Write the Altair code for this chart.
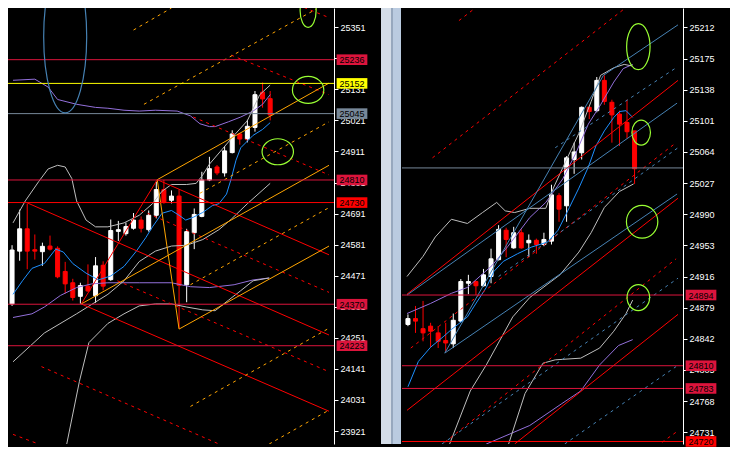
import altair as alt
import pandas as pd

W_LEFT, W_RIGHT, H, GAP = 326, 281, 436, 68
FONT = "Liberation Sans"
GREEN = "#99FF33"
BOX = "M-1.45,-0.5H1.45V0.5H-1.45Z"

# ── left chart: candles (index 0..34) ───────────────────────────────────────
L_OPEN = [24371, 24558, 24637, 24563, 24556, 24576, 24568, 24486, 24446, 24398,
          24434, 24400, 24508, 24457, 24628, 24620, 24639, 24668, 24634, 24685,
          24776, 24738, 24753, 24439, 24623, 24681, 24810, 24856, 24835, 24907,
          24973, 24955, 24996, 25121, 25098]
L_HIGH = [24579, 24705, 24726, 24617, 24588, 24613, 24575, 24520, 24460, 24446,
          24511, 24537, 24522, 24670, 24665, 24659, 24693, 24681, 24702, 24804,
          24810, 24773, 24776, 24637, 24709, 24839, 24892, 24863, 24930, 24986,
          24977, 25023, 25125, 25155, 25125]
L_LOW = [24364, 24524, 24494, 24528, 24506, 24560, 24462, 24408, 24383, 24372,
         24414, 24375, 24419, 24453, 24594, 24613, 24634, 24624, 24627, 24674,
         24726, 24727, 24285, 24377, 24565, 24678, 24806, 24827, 24822, 24904,
         24935, 24943, 24981, 25066, 25021]
L_CLOSE = [24562, 24637, 24558, 24558, 24575, 24565, 24467, 24442, 24394, 24436,
           24417, 24506, 24434, 24631, 24634, 24645, 24668, 24639, 24685, 24776,
           24730, 24753, 24437, 24627, 24688, 24810, 24850, 24835, 24913, 24973,
           24955, 25000, 25112, 25097, 25040]

L_TICKS = [23921, 24031, 24141, 24251, 24361, 24471, 24581, 24691, 24801,
           24911, 25021, 25131, 25241, 25351]

# indicator lines (index, price)
L_MA = [(0.125, 24405), (1.375, 24453), (2.625, 24497), (4.25, 24514), (5.75, 24565),
        (6.75, 24555), (8.0, 24514), (9.75, 24480), (11.375, 24456), (13.0, 24470),
        (14.75, 24504), (16.375, 24558), (17.625, 24606), (18.5, 24644), (19.75, 24692),
        (21.0, 24702), (22.0, 24685), (22.875, 24668), (23.875, 24678), (25.125, 24695),
        (26.375, 24719), (27.25, 24726), (28.25, 24760), (28.875, 24815), (29.5, 24880),
        (30.125, 24924), (31.75, 24968), (33.0, 24989), (34.0, 25013)]
L_ENV_UP = [(0.125, 25163), (3.0, 25167), (4.75, 25139), (6.0, 25095), (8.5, 25078),
            (11.0, 25067), (12.625, 25064), (14.75, 25057), (16.75, 25054), (18.875, 25057),
            (21.75, 25054), (23.5, 25037), (24.75, 25009), (26.0, 24999), (26.75, 24999),
            (28.5, 25016), (30.125, 25033), (31.75, 25054), (33.0, 25078), (34.0, 25112)]
L_ENV_DN = [(0.125, 24323), (2.625, 24336), (4.25, 24360), (6.375, 24401), (8.5, 24429),
            (10.5, 24442), (12.625, 24446), (16.75, 24446), (21.0, 24446), (23.5, 24432),
            (26.0, 24429), (29.25, 24439), (31.75, 24456), (33.875, 24463)]
L_BB_UP = [(0.125, 24658), (1.75, 24736), (3.5, 24804), (4.75, 24849), (6.0, 24862),
           (7.0, 24856), (7.875, 24815), (8.5, 24736), (9.75, 24668), (11.0, 24644),
           (12.625, 24644), (14.75, 24658), (16.75, 24685), (18.5, 24726), (19.75, 24770),
           (21.0, 24794), (23.0, 24794), (24.25, 24798), (25.125, 24828), (26.0, 24866),
           (27.625, 24917), (29.25, 24968), (31.0, 25020), (32.625, 25112), (34.0, 25146)]
L_BB_MID = [(0.125, 24166), (4.25, 24268), (8.5, 24336), (12.625, 24405), (14.75, 24453),
            (16.75, 24521), (18.875, 24558), (21.0, 24576), (23.0, 24579), (25.125, 24599),
            (27.25, 24634), (28.875, 24671), (31.0, 24726), (34.0, 24798)]
L_BB_DN = [(7.0, 23848), (8.875, 24097), (10.125, 24234), (12.625, 24302), (14.75, 24336),
           (16.75, 24364), (18.875, 24371), (21.0, 24371), (23.0, 24360), (25.125, 24350),
           (26.75, 24347), (28.5, 24384), (30.125, 24418), (31.75, 24453), (33.875, 24463)]

# trend lines (index1, price1, index2, price2)
L_RED_SOLID = [(2.0, 24729, 41.75, 24261), (19.125, 24811, 41.75, 24545),
               (9.125, 24371, 41.75, 23991), (9.125, 24371, 19.125, 24811)]
L_RED_DASH = [(23.875, 25033, 41.75, 24828), (28.875, 25252, 41.75, 25112),
              (37.625, 25430, 41.75, 25385), (13.875, 24453, 41.75, 24131),
              (17.0, 24702, 41.75, 24412), (3.875, 24149, 41.75, 23705),
              (0.125, 23909, 3.5, 23875)]
L_ORANGE_SOLID = [(19.125, 24811, 41.75, 25153), (9.125, 24371, 41.75, 24862),
                  (22.0, 24282, 41.75, 24576), (19.125, 24811, 22.0, 24282)]
L_ORANGE_DASH = [(16.0, 25341, 21.0, 25419), (17.375, 25078, 40.125, 25416),
                 (24.75, 24763, 41.75, 25016), (23.5, 24439, 41.75, 24712),
                 (23.5, 24008, 41.75, 24285), (33.875, 23875, 41.75, 23995)]

L_LEVELS = [25236, 25152, 25045, 24810, 24730, 24370, 24223]
L_LEVEL_COLORS = ["#DC143C", "#FFFF00", "#778899", "#DC143C", "#FF0000", "#DC143C", "#DC143C"]
L_LEVEL_TAGGED = [True, True, True, True, True, True, True]

L_RINGS = [(7.0, 25317), (39.0, 25409), (39.0, 25129), (35.0, 24910)]
L_RING_SIZE = [(21.5, 76), (8, 16.5), (15.7, 13.5), (15.7, 13)]
L_RING_COLORS = ["#4682B4", GREEN, GREEN, GREEN]

# ── right chart: candles (index 0..30) ──────────────────────────────────────
R_OPEN = [24859, 24866, 24854, 24857, 24849, 24840, 24836, 24863, 24908, 24910,
          24905, 24916, 24936, 24971, 24950, 24968, 24956, 24959, 24954, 24958,
          25012, 25000, 25055, 25063, 25117, 25113, 25149, 25123, 25109, 25099, 25089]
R_HIGH = [24871, 24881, 24887, 24861, 24857, 24861, 24872, 24913, 24918, 24911,
          24925, 24949, 24977, 24974, 24975, 24972, 24966, 24961, 24968, 25025,
          25015, 25059, 25075, 25118, 25118, 25153, 25155, 25126, 25113, 25126, 25089]
R_LOW = [24857, 24849, 24839, 24832, 24831, 24826, 24831, 24862, 24895, 24894,
         24904, 24908, 24935, 24939, 24949, 24949, 24939, 24943, 24952, 24954,
         24981, 24981, 25038, 25055, 25103, 25111, 25120, 25075, 25071, 25080, 25026]
R_CLOSE = [24866, 24863, 24849, 24851, 24839, 24837, 24864, 24910, 24910, 24905,
           24918, 24937, 24972, 24960, 24968, 24950, 24959, 24954, 24960, 25013,
           24996, 25057, 25064, 25117, 25112, 25149, 25124, 25108, 25097, 25088, 25044]

R_TICKS = [24731, 24768, 24805, 24842, 24879, 24916, 24953, 24990, 25027,
           25064, 25101, 25138, 25175, 25212]

R_MA = [(0.0, 24785), (1.375, 24815), (3.0, 24832), (4.75, 24845), (5.75, 24853),
        (6.75, 24860), (7.875, 24868), (8.5, 24877), (10.375, 24903), (11.375, 24922),
        (12.625, 24934), (14.5, 24943), (16.375, 24951), (18.5, 24957), (19.875, 24971),
        (21.375, 24998), (22.625, 25021), (23.875, 25046), (24.875, 25071), (26.0, 25089),
        (27.25, 25105), (28.0, 25112), (28.875, 25113), (29.75, 25105)]
R_ENV_UP = [(-0.125, 24872), (3.0, 24884), (5.75, 24896), (7.875, 24903), (11.125, 24929),
            (13.25, 24952), (16.125, 24986), (18.25, 25004), (20.5, 25032), (22.25, 25063),
            (23.875, 25097), (25.5, 25120), (27.25, 25147), (28.5, 25163), (29.75, 25168)]
R_ENV_DN = [(8.25, 24702), (10.375, 24717), (16.125, 24739), (20.375, 24765),
            (22.875, 24780), (25.375, 24811), (27.875, 24834), (29.75, 24841)]
R_BB_UP = [(-0.125, 24916), (2.0, 24940), (3.625, 24963), (5.75, 24984), (7.875, 24979),
           (9.875, 24992), (11.75, 25004), (12.875, 24994), (14.125, 24992), (16.125, 24997),
           (18.25, 24997), (19.25, 25021), (21.0, 25055), (22.625, 25086), (24.25, 25124),
           (25.5, 25155), (27.25, 25164), (28.625, 25168), (29.75, 25166)]
R_BB_MID = [(5.125, 24708), (8.25, 24780), (10.375, 24811), (13.875, 24868), (16.125, 24891),
            (20.125, 24918), (22.625, 24945), (24.25, 24968), (26.0, 24998), (28.0, 25017),
            (29.875, 25026)]
R_BB_DN = [(13.0, 24708), (15.5, 24777), (17.875, 24813), (19.5, 24817), (22.875, 24819),
           (25.375, 24831), (27.25, 24851), (28.875, 24872), (29.75, 24888)]

R_RED_SOLID = [(-0.125, 24895, 35.75, 25149), (-0.125, 24757, 35.75, 25009),
               (14.125, 24717, 35.75, 24871)]
R_RED_DASH = [(4.875, 24719, 35.5, 24937), (0.375, 24831, 35.5, 25075),
              (3.25, 25057, 28.5, 25233), (6.75, 25220, 8.625, 25233),
              (33.625, 24719, 35.5, 24731)]
R_BLUE_SOLID = [(-0.125, 24894, 35.625, 25122), (4.875, 24825, 35.625, 25014),
                (4.875, 24825, 25.875, 25155), (25.875, 25155, 35.75, 25215)]
R_BLUE_DASH = [(4.5, 24717, 35.75, 24914), (20.75, 24717, 35.5, 24809),
               (12.0, 24916, 35.75, 25069), (19.5, 25069, 35.5, 25164)]

R_LEVELS = [25045, 24894, 24810, 24783, 24720]
R_LEVEL_COLORS = ["#778899", "#DC143C", "#DC143C", "#DC143C", "#FF0000"]
R_LEVEL_TAGGED = [False, True, True, True, True]

R_RINGS = [(30.5, 25189), (30.875, 25087), (31.0, 24981), (30.5, 24891)]
R_RING_SIZE = [(11.7, 23), (9.3, 12.5), (15.7, 16.4), (11.3, 13)]
R_RING_COLORS = [GREEN, GREEN, GREEN, GREEN]


def ellipse_shape(rx, ry):
    r = max(rx, ry)
    a, b = rx / r, ry / r
    path = f"M{-a:.3f},0A{a:.3f},{b:.3f} 0 1,0 {a:.3f},0A{a:.3f},{b:.3f} 0 1,0 {-a:.3f},0Z"
    return path, (2 * r) ** 2


def panel(o, h, l, c, lines, segs, levels, rings, x_dom, y_dom, ticks, width, extras):
    xs = alt.Scale(domain=x_dom, nice=False, zero=False)
    ys = alt.Scale(domain=y_dom, nice=False, zero=False)
    axis = alt.Axis(orient="right", values=ticks, format="d", grid=False, title="",
                    labelColor="white", tickColor="white", domainColor="white",
                    tickSize=4, labelPadding=2, labelFont=FONT, labelFontSize=9,
                    labelOverlap=False, labelFlush=False)

    def X(f):
        return alt.X(f, type="quantitative", scale=xs, axis=None)

    def Y(f):
        return alt.Y(f, type="quantitative", scale=ys, axis=axis, title="")

    cdf = pd.DataFrame({"i": range(len(o)), "open": o, "high": h, "low": l, "close": c})
    cdf["col"] = ["#FFFFFF" if cl >= op else "#FF0000" for op, cl in zip(o, c)]

    wicks = alt.Chart(cdf).mark_rule(clip=True, strokeWidth=1).encode(
        x=X("i"), y=Y("low"), y2=alt.Y2("high"), color=alt.Color("col:N", scale=None))
    bodies = alt.Chart(cdf).mark_bar(clip=True, width=4, strokeWidth=1).encode(
        x=X("i"), y=Y("open"), y2=alt.Y2("close"),
        fill=alt.Color("col:N", scale=None), stroke=alt.Color("col:N", scale=None))

    ldf = pd.concat([
        pd.DataFrame({"s": name, "t": [a for a, _ in pts], "p": [b for _, b in pts], "col": col})
        for name, pts, col in lines
    ])
    ind = alt.Chart(ldf).mark_line(clip=True, strokeWidth=1).encode(
        x=X("t"), y=Y("p"), detail="s:N", color=alt.Color("col:N", scale=None))

    layers = [wicks, bodies, ind]

    for rows, col, dashed in segs:
        sdf = pd.DataFrame(rows, columns=["t", "p", "t2", "p2"])
        mark = dict(clip=True, strokeWidth=1, color=col)
        if dashed:
            mark["strokeDash"] = [3, 4]
        layers.append(alt.Chart(sdf).mark_rule(**mark).encode(
            x=X("t"), x2=alt.X2("t2"), y=Y("p"), y2=alt.Y2("p2")))

    vals, cols, tagged = levels
    vdf = pd.DataFrame({"lvl": vals, "col": cols, "tag": tagged, "txt": [str(v) for v in vals]})
    layers.append(alt.Chart(vdf).mark_rule(clip=True, strokeWidth=1).encode(
        y=Y("lvl"), color=alt.Color("col:N", scale=None)))

    tdf = vdf[vdf["tag"]]
    layers.append(alt.Chart(tdf).mark_point(shape=BOX, size=449, filled=True, opacity=1,
                                            strokeWidth=0).encode(
        x=alt.value(width + 18), y=Y("lvl"), color=alt.Color("col:N", scale=None)))
    layers.append(alt.Chart(tdf).mark_text(font=FONT, fontSize=9, color="black",
                                           align="center", baseline="middle", dy=0.5).encode(
        x=alt.value(width + 18), y=Y("lvl"), text="txt:N"))

    centres, sizes, colors = rings
    for (t, p), (rx, ry), col in zip(centres, sizes, colors):
        path, size = ellipse_shape(rx, ry)
        layers.append(alt.Chart(pd.DataFrame({"t": [t], "p": [p]})).mark_point(
            shape=path, size=size, filled=False, color=col, strokeWidth=1.2,
            opacity=1, clip=True).encode(x=X("t"), y=Y("p")))

    one = pd.DataFrame({"k": [0]})
    for x0, x1, col in extras:
        layers.append(alt.Chart(one).mark_rect(color=col).encode(
            x=alt.value(x0), x2=alt.value(x1), y=alt.value(0), y2=alt.value(H)))

    return alt.layer(*layers).properties(width=width, height=H)


left = panel(
    L_OPEN, L_HIGH, L_LOW, L_CLOSE,
    [("ma", L_MA, "#1E90FF"), ("eu", L_ENV_UP, "#9370DB"), ("ed", L_ENV_DN, "#9370DB"),
     ("bu", L_BB_UP, "#BEBEBE"), ("bm", L_BB_MID, "#BEBEBE"), ("bd", L_BB_DN, "#BEBEBE")],
    [(L_RED_SOLID, "#FF0000", False), (L_RED_DASH, "#FF0000", True),
     (L_ORANGE_SOLID, "#FFA500", False), (L_ORANGE_DASH, "#FFA500", True)],
    (L_LEVELS, L_LEVEL_COLORS, L_LEVEL_TAGGED),
    (L_RINGS, L_RING_SIZE, L_RING_COLORS),
    [0.125, 41.75], [23875, 25419], L_TICKS, W_LEFT,
    [(W_LEFT + 47, W_LEFT + 57, "#D4DDE8"), (W_LEFT + 57, W_LEFT + 59, "#97A8BE"),
     (W_LEFT + 59, W_LEFT + 67, "#BACBE0")],
)

right = panel(
    R_OPEN, R_HIGH, R_LOW, R_CLOSE,
    [("ma", R_MA, "#1E90FF"), ("eu", R_ENV_UP, "#9370DB"), ("ed", R_ENV_DN, "#9370DB"),
     ("bu", R_BB_UP, "#BEBEBE"), ("bm", R_BB_MID, "#BEBEBE"), ("bd", R_BB_DN, "#BEBEBE")],
    [(R_RED_SOLID, "#FF0000", False), (R_RED_DASH, "#FF0000", True),
     (R_BLUE_SOLID, "#4682B4", False), (R_BLUE_DASH, "#4682B4", True)],
    (R_LEVELS, R_LEVEL_COLORS, R_LEVEL_TAGGED),
    (R_RINGS, R_RING_SIZE, R_RING_COLORS),
    [-0.125, 35.75], [24717, 25235], R_TICKS, W_RIGHT,
    [(W_RIGHT + 40, W_RIGHT + 47, "black")],
)

chart = (
    alt.hconcat(left, right, spacing=GAP, bounds="flush")
    .properties(background="black", padding=0)
    .configure_view(strokeWidth=0, fill="black")
)

chart.save("out.html", embed_options={"renderer": "svg", "actions": False})
